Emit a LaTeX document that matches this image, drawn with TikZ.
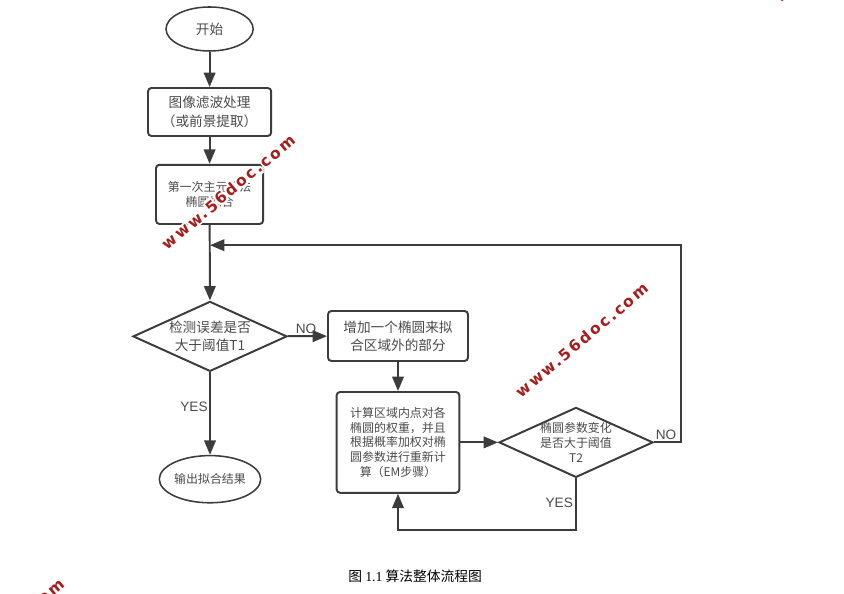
\documentclass[tikz,border=0pt]{standalone}
\usepackage{fontspec}
\setmainfont{Liberation Sans}
\newfontfamily\cjk{Noto Sans CJK SC}
\newfontfamily\capfont{Liberation Serif}
\newfontfamily\markfont[LetterSpace=14]{DejaVu Sans}
\usetikzlibrary{arrows.meta,shapes.geometric}
\definecolor{linegray}{HTML}{3C3C3C}
\definecolor{textgray}{HTML}{4A4A4A}
\definecolor{markred}{HTML}{A81C1C}
\newcommand{\marktext}{www.56doc.com}
\tikzset{
  boxnode/.style={draw=linegray,line width=1.4pt,rounded corners=2.5pt,align=center,text=textgray,inner sep=0pt},
  ovalnode/.style={ellipse,draw=linegray,line width=1.1pt,align=center,text=textgray,inner sep=0pt},
  diamnode/.style={diamond,aspect=2.2,draw=linegray,line width=1.4pt,align=center,text=textgray,inner xsep=-1cm,inner ysep=-0.5cm},
  flow/.style={draw=linegray,line width=1.4pt,-{Triangle[length=3.6mm,width=2.9mm]}},
  lab/.style={text=textgray,font=\fontsize{9.7}{12}\selectfont},
  wmark/.style={text=markred,font=\markfont\bfseries\fontsize{11}{14}\selectfont,rotate=40,inner sep=0pt},
  big/.style={font=\cjk\fontsize{9.7}{13}\selectfont},
  small/.style={font=\cjk\fontsize{8.5}{10.4}\selectfont}
}
\begin{document}
\begin{tikzpicture}
  \useasboundingbox (0.0,0.0) rectangle (21.1,14.85) ;
  \clip (0.0,0.0) rectangle (21.1,14.85) ;

  \node[ovalnode,big,minimum width=2.18cm,minimum height=1.1cm] (start) at (5.24,14.125) {开始} ;
  \node[boxnode,big,minimum width=3.08cm,minimum height=1.2cm] (filter) at (5.24,12.05) {图像滤波处理\\（或前景提取）} ;
  \node[boxnode,small,minimum width=2.68cm,minimum height=1.48cm] (first) at (5.24,9.99) {第一次主元算法\\椭圆拟合} ;
  \node[diamnode,big,minimum width=3.85cm,minimum height=1.75cm] (check1) at (5.25,6.44) {检测误差是否\\大于阈值T1} ;
  \node[ovalnode,small,minimum width=2.45cm,minimum height=1.18cm] (stop) at (5.25,2.87) {输出拟合结果} ;
  \node[boxnode,big,minimum width=3.5cm,minimum height=1.25cm] (add) at (9.95,6.45) {增加一个椭圆来拟\\合区域外的部分} ;
  \node[boxnode,small,minimum width=3.07cm,minimum height=2.52cm] (calc) at (9.95,3.79) {计算区域内点对各\\椭圆的权重，并且\\根据概率加权对椭\\圆参数进行重新计\\算（EM步骤）} ;
  \node[diamnode,small,minimum width=3.85cm,minimum height=1.75cm] (check2) at (14.4,3.79) {椭圆参数变化\\是否大于阈值\\T2} ;

  \coordinate (loopa) at (17.02,8.72) ;
  \coordinate (loopb) at (5.25,8.72) ;
  \coordinate (backa) at (14.4,1.6) ;
  \coordinate (backb) at (9.95,1.6) ;

  \draw[flow] (start) -- (filter) ;
  \draw[flow] (filter) -- (first) ;
  \draw[flow] (first) -- (check1) ;
  \draw[flow] (check1) -- (stop) ;
  \draw[flow] (check1) -- (add) ;
  \draw[flow] (add) -- (calc) ;
  \draw[flow] (calc) -- (check2) ;
  \draw[flow] (check2.east) -- (check2.east -| loopa) -- (loopa) -- (loopb) ;
  \draw[flow] (check2.south) -- (backa) -- (backb) -- (calc.south) ;

  \node[lab] (no1) at (7.65,6.63) {NO} ;
  \node[lab] (yes1) at (4.85,4.68) {YES} ;
  \node[lab] (no2) at (16.65,3.97) {NO} ;
  \node[lab] (yes2) at (13.98,2.27) {YES} ;
  \node[font=\cjk\fontsize{9.8}{12}\selectfont,text=black] (caption) at (10.38,0.45) {图 {\capfont 1.1} 算法整体流程图} ;

  % white edge round the mark that lies over the box
  \foreach \dx/\dy [count=\i] in {-0.05/0,0.05/0,0/-0.05,0/0.05,-0.04/-0.04,0.04/0.04,-0.04/0.04,0.04/-0.04}
    \node[wmark,text=white] (halo\i) at (5.71+\dx,10.05+\dy) {\marktext} ;
  \node[wmark] (marka) at (5.71,10.05) {\marktext} ;
  \node[wmark] (markb) at (14.55,6.35) {\marktext} ;
  \node[wmark,anchor=east] (markc) at (1.55,0.32) {\marktext} ;
  \node[wmark,anchor=west] (markd) at (19.42,14.87) {\marktext} ;
\end{tikzpicture}
\end{document}
